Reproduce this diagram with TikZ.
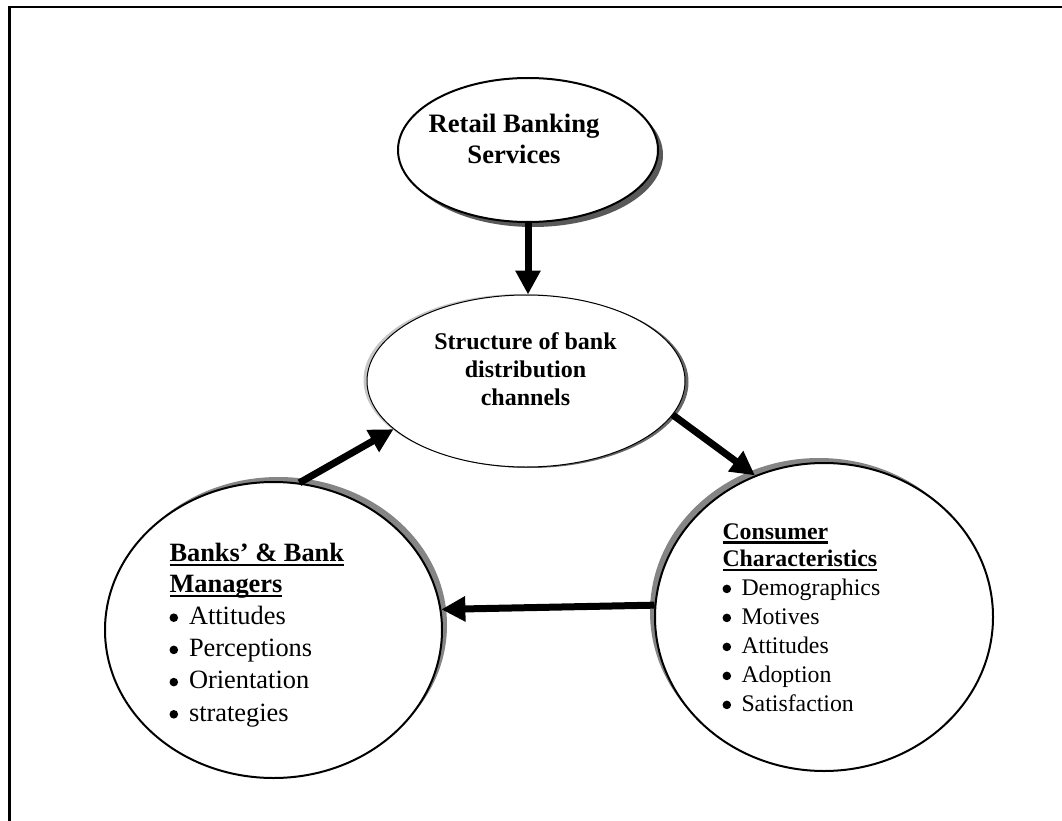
\documentclass[tikz,border=0pt]{standalone}
\usepackage{fontspec}
\setmainfont{Liberation Serif}
\usetikzlibrary{shapes.geometric,arrows.meta,shadows}

% underlined bold heading line
\newcommand\hdline[1]{\setbox0\hbox{\bfseries #1}\hbox{\rlap{\vrule height -2.2pt depth 4.6pt width \wd0}\box0}}
% round list bullet
\newcommand\bdot{\tikz[baseline=0pt]\fill (0pt,6.8pt) circle (4.3pt);}
% bulleted list line
\newcommand\bitem[2]{\hbox{\hbox to #1{\bdot\hss}#2}}
% centred line of a multi-line label
\newcommand\ctrline[1]{\hbox to 0pt{\hss #1\hss}}

\begin{document}
\begin{tikzpicture}[x=1pt,y=-1pt,
  oval/.style={ellipse, draw, fill=white, inner sep=0pt, line width=2pt},
  arr/.style={line width=7pt, -{Triangle[length=24pt,width=24pt]}},
  frame/.style={line width=2.5pt},
  lbl/.style={inner sep=0pt, outer sep=0pt}]
\useasboundingbox (0,0) rectangle (1062,821);

% page frame (top and left edges)
\draw[frame] (1062,7) -| (9.7,821);

% ovals
\node[oval, minimum width=260pt, minimum height=144pt,
      general shadow={fill=black!65, shadow xshift=5pt, shadow yshift=-5pt}]
      (ret) at (528,150) {};
\node[oval, line width=1pt, minimum width=318pt, minimum height=172pt,
      general shadow={fill=black!22, shadow xshift=-3.5pt, shadow yshift=1pt},
      general shadow={fill=black!60, shadow xshift=3.5pt, shadow yshift=-1pt}]
      (str) at (526,381) {};
\node[oval, minimum width=337pt, minimum height=296pt,
      general shadow={fill=black!48, shadow xshift=5pt, shadow yshift=5pt}]
      (ban) at (273.5,630) {};
\node[oval, minimum width=338pt, minimum height=308pt,
      general shadow={fill=black!48, shadow xshift=-5pt, shadow yshift=5pt}]
      (con) at (824,617) {};

% labels
\node[lbl, anchor=base, font=\fontsize{26.6}{31}\selectfont\bfseries] (rett) at (514,132.7)
  {\vtop{\baselineskip=31.3pt \ctrline{Retail Banking}\ctrline{Services}}};
\node[lbl, anchor=base, font=\fontsize{24}{28}\selectfont\bfseries] (strt) at (525.5,349.3)
  {\vtop{\baselineskip=27.9pt \ctrline{Structure of bank}\ctrline{distribution}\ctrline{channels}}};
\node[lbl, anchor=base west, font=\fontsize{26.4}{31}\selectfont] (bant) at (169.5,561.7)
  {\vtop{\baselineskip=30.6pt \hdline{Banks’ \& Bank}\hdline{Managers}%
     \baselineskip=32.2pt
     \bitem{19.5pt}{Attitudes}\bitem{19.5pt}{Perceptions}%
     \bitem{19.5pt}{Orientation}\bitem{19.5pt}{strategies}}};
\node[lbl, anchor=base west, font=\fontsize{23.8}{29}\selectfont] (cont) at (722.5,539)
  {\vtop{\baselineskip=27.7pt \hdline{Consumer}\hdline{Characteristics}%
     \baselineskip=29pt
     \bitem{19pt}{Demographics}\bitem{19pt}{Motives}\bitem{19pt}{Attitudes}%
     \bitem{19pt}{Adoption}\bitem{19pt}{Satisfaction}}};

% connectors
\draw[arr] (ret.south) -- (ret.south |- str.north);
\draw[arr] (ban.80) -- (str.200);
\draw[arr] (str.-13) -- (con.116);
\draw[arr] (con.176.6) -- (ban.7.8);
\end{tikzpicture}
\end{document}
